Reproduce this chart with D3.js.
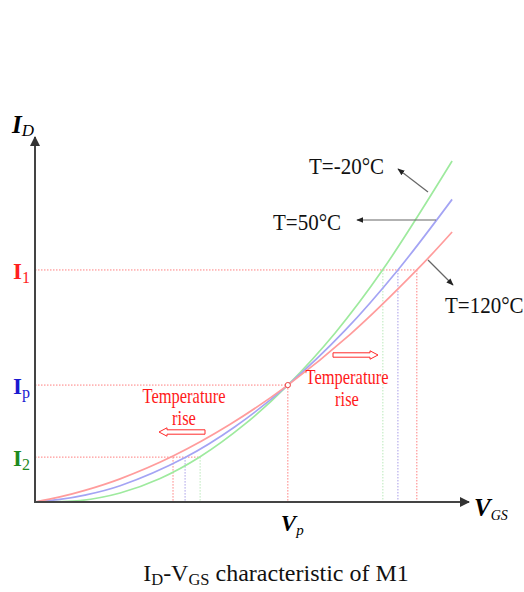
<!DOCTYPE html>
<html>
<head>
<meta charset="utf-8">
<script src="https://cdn.jsdelivr.net/npm/d3@7"></script>
<style>
  body { margin: 0; background: #fff; }
</style>
</head>
<body>
<svg id="chart" width="524" height="592" font-family="'Liberation Serif', 'Times New Roman', Times, 'DejaVu Serif', serif"></svg>
<script>
// curve data (normalised units, 0..100)
var vgsRed   = [0, 5.8, 11.6, 19.8, 32.1, 45.3, 58.8, 73.3, 88.8, 97.0];
var idRed    = [0, 1.4, 3.2, 6.4, 12.7, 21.4, 32.3, 46.3, 64.1, 74.6];
var vgsBlue  = [0, 5.8, 11.6, 19.8, 34.9, 46.5, 58.8, 72.1, 84.4, 97.0];
var idBlue   = [0, 0.7, 1.9, 4.5, 12.3, 20.8, 32.3, 47.4, 64.1, 83.6];
var vgsGreen = [0, 4.9, 10.5, 19.8, 29.1, 38.4, 48.8, 58.8, 69.8, 80.9, 97.0];
var idGreen  = [0, 0.1, 0.4, 2.5, 6.5, 12.5, 21.5, 32.3, 46.7, 64.2, 94.2];

// operating levels
var levelI1 = 64.1, levelIp = 32.3, levelI2 = 12.4, levelVp = 58.8;
var crossI1 = [80.9, 84.4, 88.8];   // green, blue, red
var crossI2 = [32.1, 34.9, 38.4];   // red, blue, green

var curveLabels = ["T=-20\u00B0C", "T=50\u00B0C", "T=120\u00B0C"];

var svg = d3.select("#chart");

var x = d3.scaleLinear().domain([0, 100]).range([35, 465]);
var y = d3.scaleLinear().domain([0, 100]).range([502, 140]);

var cRed = "#ff9c9c", cBlue = "#a4a4f4", cGreen = "#9eea9e";
var dotRed = "#ff7f7f";

// markers
var defs = svg.append("defs");
defs.append("marker").attr("id", "axisHead")
  .attr("viewBox", "0 0 10 10").attr("refX", 9).attr("refY", 5)
  .attr("markerWidth", 5).attr("markerHeight", 5).attr("orient", "auto")
  .attr("markerUnits", "strokeWidth")
  .append("path").attr("d", "M0,0 L10,5 L0,10 z").attr("fill", "#333");
defs.append("marker").attr("id", "lblHead")
  .attr("viewBox", "0 0 10 10").attr("refX", 9).attr("refY", 5)
  .attr("markerWidth", 6).attr("markerHeight", 6).attr("orient", "auto")
  .append("path").attr("d", "M0,1 L10,5 L0,9 z").attr("fill", "#222");

// dotted guide lines
var guides = svg.append("g").attr("fill", "none").attr("stroke-width", 1)
  .attr("stroke-dasharray", "1.5,1.5");

function hline(lv, xEnd) {
  guides.append("line").attr("x1", x(0)).attr("x2", x(xEnd))
    .attr("y1", y(lv)).attr("y2", y(lv)).attr("stroke", dotRed);
}
function vline(xv, lv, col) {
  guides.append("line").attr("x1", x(xv)).attr("x2", x(xv))
    .attr("y1", y(lv)).attr("y2", y(0)).attr("stroke", col);
}
hline(levelI1, crossI1[2]);
hline(levelIp, levelVp);
hline(levelI2, crossI2[2]);
vline(crossI1[0], levelI1, "#b9e8b9");
vline(crossI1[1], levelI1, "#a89ce8");
vline(crossI1[2], levelI1, dotRed);
vline(crossI2[0], levelI2, dotRed);
vline(crossI2[1], levelI2, "#a89ce8");
vline(crossI2[2], levelI2, "#b9e8b9");
vline(levelVp, levelIp, dotRed);

// curves
var line = d3.line()
  .x(function(d) { return x(d[0]); })
  .y(function(d) { return y(d[1]); })
  .curve(d3.curveCatmullRom);

var series = [
  { xs: vgsGreen, ys: idGreen, color: cGreen },
  { xs: vgsBlue, ys: idBlue, color: cBlue },
  { xs: vgsRed, ys: idRed, color: cRed }
];
series.forEach(function(s) {
  svg.append("path")
    .datum(d3.zip(s.xs, s.ys))
    .attr("d", line)
    .attr("fill", "none")
    .attr("stroke", s.color)
    .attr("stroke-width", 1.7);
});

// crossing point
svg.append("circle").attr("cx", x(levelVp)).attr("cy", y(levelIp)).attr("r", 2.6)
  .attr("fill", "#fff").attr("stroke", "#ee4444").attr("stroke-width", 1);

// axes
svg.append("line").attr("x1", x(0)).attr("y1", y(0)).attr("x2", x(0)).attr("y2", 137)
  .attr("stroke", "#444").attr("stroke-width", 2).attr("marker-end", "url(#axisHead)");
svg.append("line").attr("x1", x(0) - 1).attr("y1", y(0)).attr("x2", 469).attr("y2", y(0))
  .attr("stroke", "#444").attr("stroke-width", 2).attr("marker-end", "url(#axisHead)");

// axis titles
var idLbl = svg.append("text").attr("x", 12).attr("y", 133);
idLbl.append("tspan").attr("font-size", 25).attr("font-style", "italic").attr("font-weight", "bold").text("I");
idLbl.append("tspan").attr("font-size", 17).attr("font-style", "italic").attr("dy", 3).text("D");

var vgsLbl = svg.append("text").attr("x", 474).attr("y", 516);
vgsLbl.append("tspan").attr("font-size", 25).attr("font-style", "italic").attr("font-weight", "bold").text("V");
vgsLbl.append("tspan").attr("font-size", 14).attr("font-style", "italic").attr("dy", 4).text("GS");

var vpLbl = svg.append("text").attr("x", x(levelVp) - 7).attr("y", 531);
vpLbl.append("tspan").attr("font-size", 23).attr("font-style", "italic").attr("font-weight", "bold").text("V");
vpLbl.append("tspan").attr("font-size", 15).attr("font-style", "italic").attr("dy", 4).text("p");

// level labels
function levelLabel(lv, sub, col) {
  var t = svg.append("text").attr("x", 13).attr("y", y(lv) + 9).attr("fill", col);
  t.append("tspan").attr("font-size", 23).attr("font-weight", "bold").text("I");
  t.append("tspan").attr("font-size", 16).attr("dy", 4).text(sub);
}
levelLabel(levelI1, "1", "#ff2020");
levelLabel(levelIp, "p", "#1a1ad0");
levelLabel(levelI2, "2", "#1f8a1f");

// temperature labels with pointers
var lbls = [
  { t: curveLabels[0], tx: 309, ty: 174, from: [428, 192], to: [398, 169] },
  { t: curveLabels[1], tx: 273, ty: 230, from: [436, 220], to: [357, 220] },
  { t: curveLabels[2], tx: 445, ty: 313, from: [428, 260], to: [453, 285] }
];
lbls.forEach(function(l) {
  svg.append("text").attr("transform", "translate(" + l.tx + "," + l.ty + ") scale(1,1.12)")
    .attr("font-size", 21).attr("fill", "#111").text(l.t);
  svg.append("line").attr("x1", l.from[0]).attr("y1", l.from[1])
    .attr("x2", l.to[0]).attr("y2", l.to[1])
    .attr("stroke", "#666").attr("stroke-width", 1.2).attr("marker-end", "url(#lblHead)");
});

// "Temperature rise" notes with hollow arrows
function note(cx, by) {
  var g = svg.append("g").attr("fill", "#ff1a1a").attr("font-size", 16.5).attr("text-anchor", "middle");
  g.append("text").attr("transform", "translate(" + cx + "," + by + ") scale(1,1.3)").text("Temperature");
  g.append("text").attr("transform", "translate(" + cx + "," + (by + 22) + ") scale(1,1.3)").text("rise");
}
note(184, 403);
note(347, 384);

function blockArrow(x0, x1, yc, dir) {
  // dir = 1 points right, -1 points left
  var h = 2.2, hh = 4.2, hl = 8;
  var tip = dir > 0 ? x1 : x0, tail = dir > 0 ? x0 : x1;
  var neck = tip - dir * hl;
  var p = d3.path();
  p.moveTo(tail, yc - h); p.lineTo(neck, yc - h); p.lineTo(neck, yc - hh);
  p.lineTo(tip, yc); p.lineTo(neck, yc + hh); p.lineTo(neck, yc + h);
  p.lineTo(tail, yc + h); p.closePath();
  svg.append("path").attr("d", p.toString()).attr("fill", "#fff")
    .attr("stroke", "#ff2a2a").attr("stroke-width", 1);
}
blockArrow(159, 205, 432, -1);
blockArrow(333, 378, 355, 1);

// caption
var cap = svg.append("text").attr("transform", "translate(276,581)").attr("font-size", 24)
  .attr("text-anchor", "middle").attr("fill", "#111");
cap.append("tspan").text("I");
cap.append("tspan").attr("font-size", 16.5).attr("dy", 4).text("D");
cap.append("tspan").attr("dy", -4).text("-V");
cap.append("tspan").attr("font-size", 16.5).attr("dy", 4).text("GS");
cap.append("tspan").attr("dy", -4).text(" characteristic of M1");
</script>
</body>
</html>
